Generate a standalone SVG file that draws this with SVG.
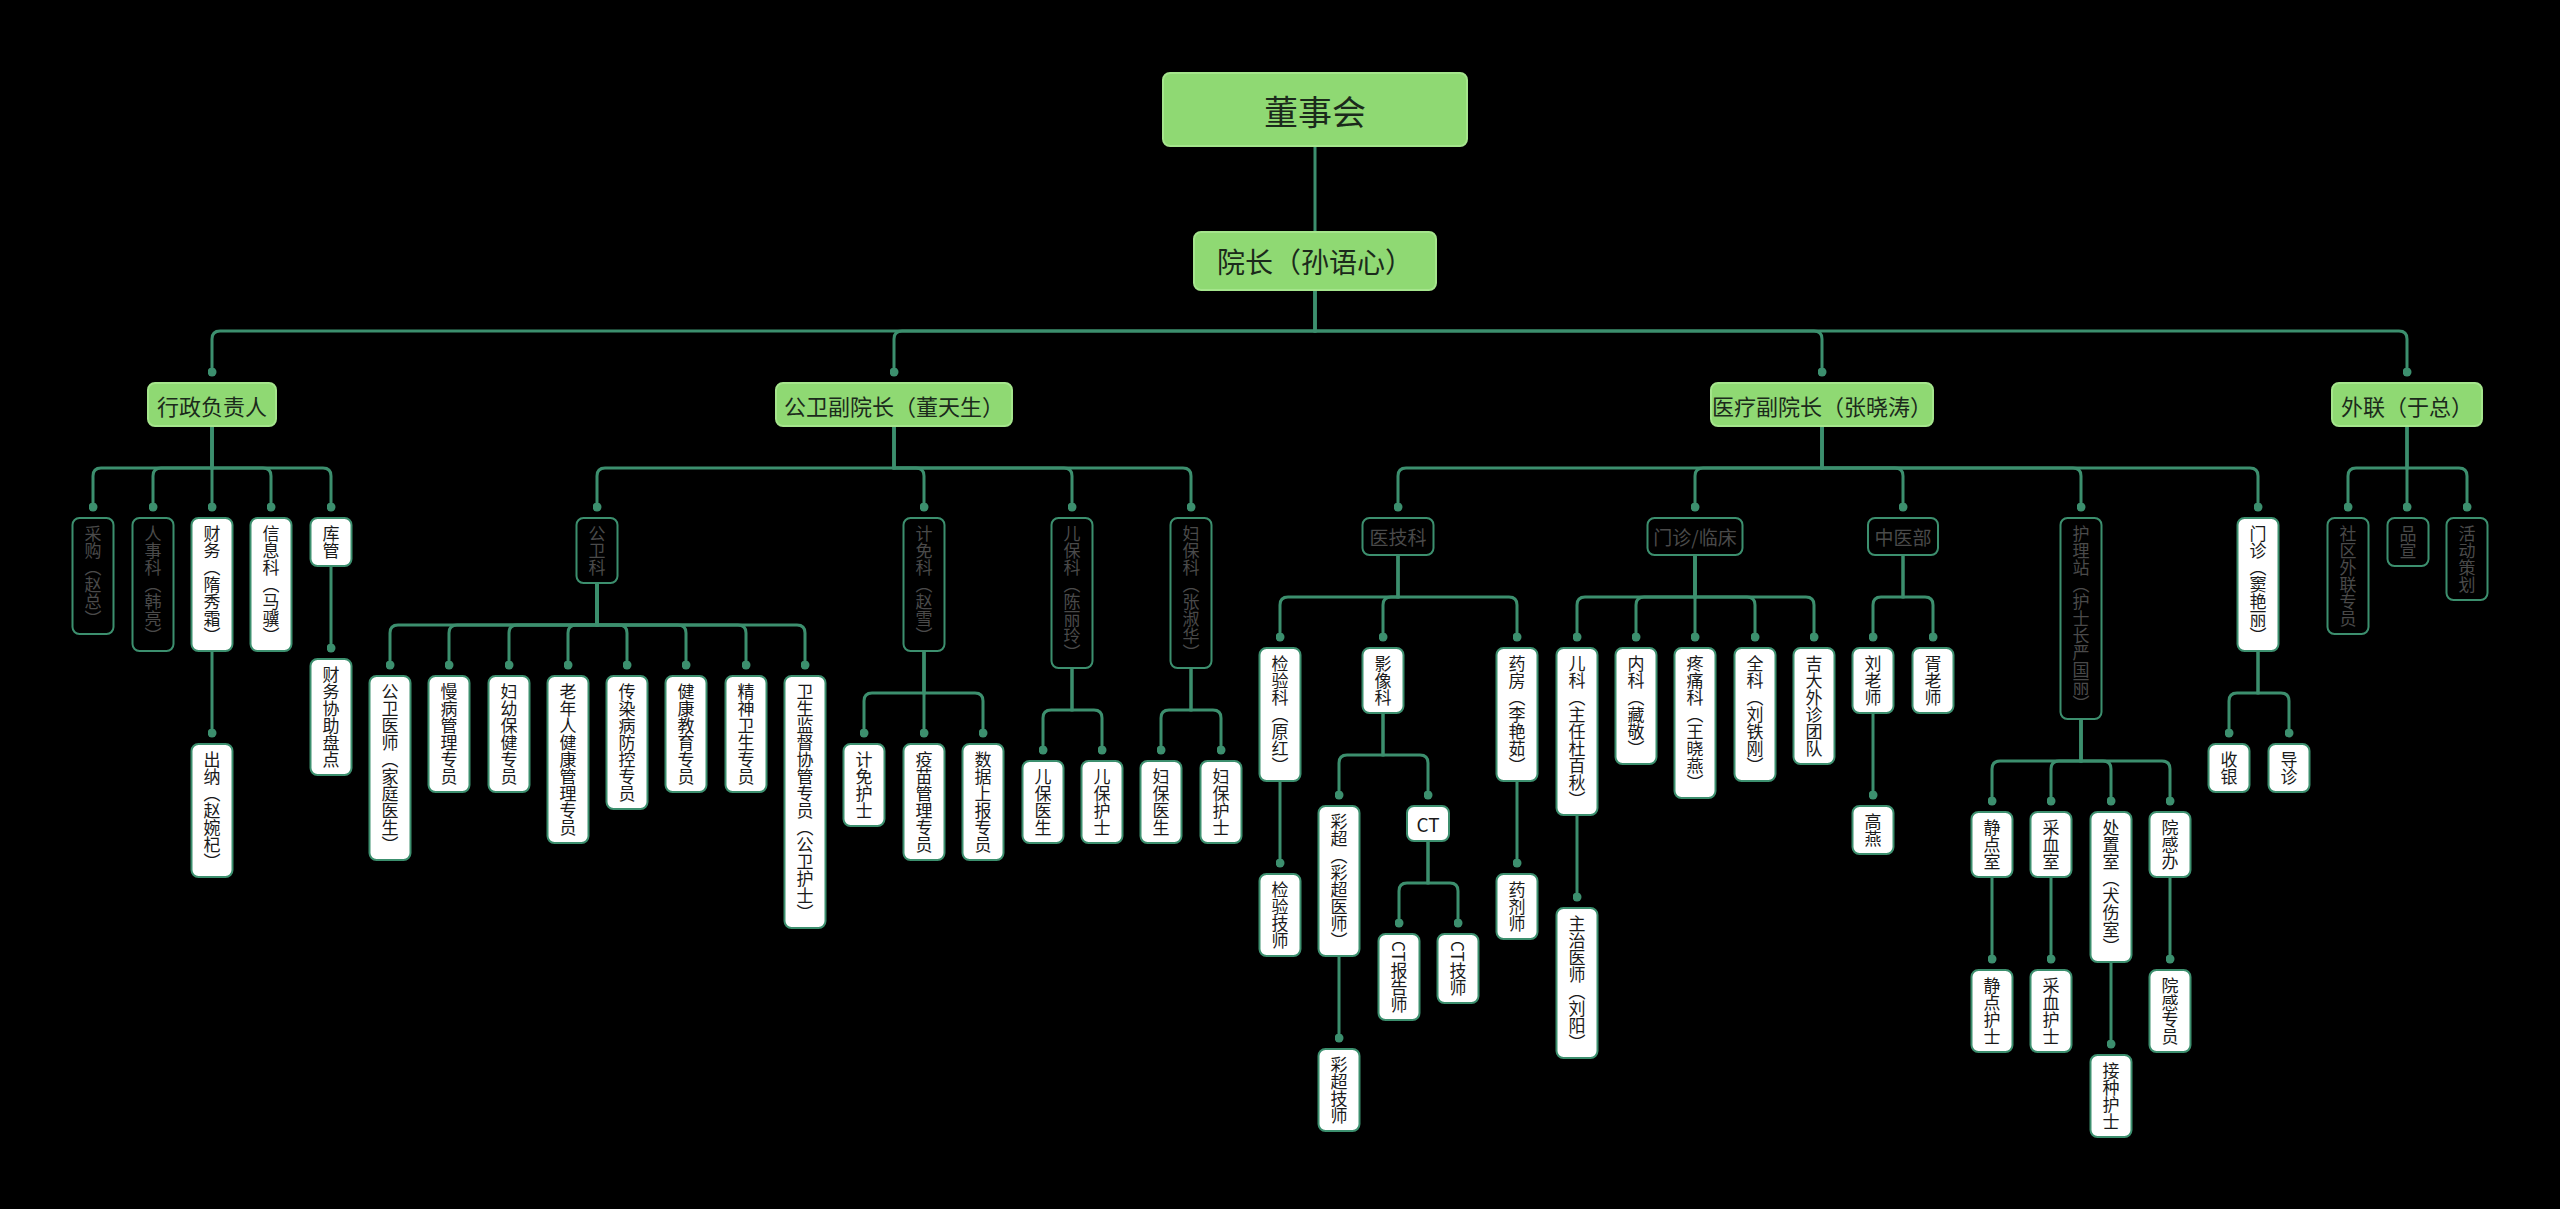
<svg xmlns="http://www.w3.org/2000/svg" width="2560" height="1209" viewBox="0 0 2560 1209">
<defs>
<marker id="dot" viewBox="0 0 10 10" refX="5" refY="5" markerWidth="9" markerHeight="9" markerUnits="userSpaceOnUse"><circle cx="5" cy="5" r="5" fill="#3c8f6e"/></marker>
<style>
text{font-family:"Noto Sans CJK SC","Noto Sans",sans-serif;}
.c path{fill:none;stroke:#3c8f6e;stroke-width:3;marker-end:url(#dot);}
.c path.nm{marker-end:none;}
.l1 rect{fill:#8fd973;stroke:#a5e58c;stroke-width:2;}
.l1 text{fill:#1b2a1b;text-anchor:middle;dominant-baseline:central;font-size:22px;}
.w rect{fill:#ffffff;stroke:#3c8f6e;stroke-width:2;}
.d rect{fill:#000000;stroke:#3c8f6e;stroke-width:2;}
.w text{fill:#1a1a1a;}
.d text{fill:#4a4a4a;}
.v text{writing-mode:vertical-rl;font-size:17px;}
.h text{font-size:19px;text-anchor:middle;dominant-baseline:central;}
</style>
</defs>
<rect width="2560" height="1209" fill="#000"/>
<g class="c" id="connectors">
<path class="nm" d="M1315 146V232"/>
<path d="M1315 290V331H220Q212 331 212 339V372"/>
<path d="M1315 290V331H902Q894 331 894 339V372"/>
<path d="M1315 290V331H1814Q1822 331 1822 339V372"/>
<path d="M1315 290V331H2399Q2407 331 2407 339V372"/>
<path d="M212 426V468H101Q93 468 93 476V507"/>
<path d="M212 426V468H161Q153 468 153 476V507"/>
<path d="M212 426V507"/>
<path d="M212 426V468H263Q271 468 271 476V507"/>
<path d="M212 426V468H323Q331 468 331 476V507"/>
<path d="M212 651V733"/>
<path d="M331 566V648"/>
<path d="M894 426V468H605Q597 468 597 476V507"/>
<path d="M894 426V468H916Q924 468 924 476V507"/>
<path d="M894 426V468H1064Q1072 468 1072 476V507"/>
<path d="M894 426V468H1183Q1191 468 1191 476V507"/>
<path d="M597 583V625H398Q390 625 390 633V665"/>
<path d="M597 583V625H457Q449 625 449 633V665"/>
<path d="M597 583V625H517Q509 625 509 633V665"/>
<path d="M597 583V625H576Q568 625 568 633V665"/>
<path d="M597 583V625H619Q627 625 627 633V665"/>
<path d="M597 583V625H678Q686 625 686 633V665"/>
<path d="M597 583V625H738Q746 625 746 633V665"/>
<path d="M597 583V625H797Q805 625 805 633V665"/>
<path d="M924 651V693H872Q864 693 864 701V733"/>
<path d="M924 651V733"/>
<path d="M924 651V693H975Q983 693 983 701V733"/>
<path d="M1072 668V710H1051Q1043 710 1043 718V750"/>
<path d="M1072 668V710H1094Q1102 710 1102 718V750"/>
<path d="M1191 668V710H1169Q1161 710 1161 718V750"/>
<path d="M1191 668V710H1213Q1221 710 1221 718V750"/>
<path d="M1822 426V468H1406Q1398 468 1398 476V507"/>
<path d="M1822 426V468H1703Q1695 468 1695 476V507"/>
<path d="M1822 426V468H1895Q1903 468 1903 476V507"/>
<path d="M1822 426V468H2073Q2081 468 2081 476V507"/>
<path d="M1822 426V468H2250Q2258 468 2258 476V507"/>
<path d="M1398 555V597H1288Q1280 597 1280 605V637"/>
<path d="M1398 555V597H1391Q1383 597 1383 605V637"/>
<path d="M1398 555V597H1509Q1517 597 1517 605V637"/>
<path d="M1280 781V863"/>
<path d="M1517 781V863"/>
<path d="M1383 713V755H1347Q1339 755 1339 763V795"/>
<path d="M1383 713V755H1420Q1428 755 1428 763V795"/>
<path d="M1339 956V1038"/>
<path d="M1428 841V883H1407Q1399 883 1399 891V923"/>
<path d="M1428 841V883H1450Q1458 883 1458 891V923"/>
<path d="M1695 555V597H1585Q1577 597 1577 605V637"/>
<path d="M1695 555V597H1644Q1636 597 1636 605V637"/>
<path d="M1695 555V637"/>
<path d="M1695 555V597H1747Q1755 597 1755 605V637"/>
<path d="M1695 555V597H1806Q1814 597 1814 605V637"/>
<path d="M1577 815V897"/>
<path d="M1903 555V597H1881Q1873 597 1873 605V637"/>
<path d="M1903 555V597H1925Q1933 597 1933 605V637"/>
<path d="M1873 713V795"/>
<path d="M2081 719V761H2000Q1992 761 1992 769V801"/>
<path d="M2081 719V761H2059Q2051 761 2051 769V801"/>
<path d="M2081 719V761H2103Q2111 761 2111 769V801"/>
<path d="M2081 719V761H2162Q2170 761 2170 769V801"/>
<path d="M1992 877V959"/>
<path d="M2051 877V959"/>
<path d="M2111 962V1044"/>
<path d="M2170 877V959"/>
<path d="M2258 651V693H2237Q2229 693 2229 701V733"/>
<path d="M2258 651V693H2281Q2289 693 2289 701V733"/>
<path d="M2407 426V468H2356Q2348 468 2348 476V507"/>
<path d="M2407 426V507"/>
<path d="M2407 426V468H2459Q2467 468 2467 476V507"/>
</g>

<g id="n-dongshihui" class="l1"><rect x="1163" y="73" width="304" height="73" rx="7"/><text x="1315" y="110" style="font-size:34px">董事会</text></g>
<g id="n-yuanzhang" class="l1"><rect x="1194" y="232" width="242" height="58" rx="7"/><text x="1315" y="261" style="font-size:28px">院长（孙语心）</text></g>
<g id="n-xingzheng" class="l1"><rect x="148" y="383" width="128" height="43" rx="7"/><text x="212" y="404.5">行政负责人</text></g>
<g id="n-gongwei" class="l1"><rect x="776" y="383" width="236" height="43" rx="7"/><text x="894" y="404.5">公卫副院长（董天生）</text></g>
<g id="n-yiliao" class="l1"><rect x="1711" y="383" width="222" height="43" rx="7"/><text x="1822" y="404.5">医疗副院长（张晓涛）</text></g>
<g id="n-wailian" class="l1"><rect x="2332" y="383" width="150" height="43" rx="7"/><text x="2407" y="404.5">外联（于总）</text></g>

<g id="n-caigou" class="d v"><rect x="72.5" y="518" width="41" height="116" rx="7"/><text x="93" y="525">采购（赵总）</text></g>
<g id="n-renshi" class="d v"><rect x="132.5" y="518" width="41" height="133" rx="7"/><text x="153" y="525">人事科（韩亮）</text></g>
<g id="n-caiwu" class="w v"><rect x="191.5" y="518" width="41" height="133" rx="7"/><text x="212" y="525">财务（隋秀霜）</text></g>
<g id="n-xinxi" class="w v"><rect x="250.5" y="518" width="41" height="133" rx="7"/><text x="271" y="525">信息科（马骥）</text></g>
<g id="n-kuguan" class="w v"><rect x="310.5" y="518" width="41" height="48" rx="7"/><text x="331" y="525">库管</text></g>
<g id="n-chuna" class="w v"><rect x="191.5" y="744" width="41" height="133" rx="7"/><text x="212" y="751">出纳（赵婉杞）</text></g>
<g id="n-pandian" class="w v"><rect x="310.5" y="659" width="41" height="116" rx="7"/><text x="331" y="666">财务协助盘点</text></g>

<g id="n-gongweike" class="d v"><rect x="576.5" y="518" width="41" height="65" rx="7"/><text x="597" y="525">公卫科</text></g>
<g id="n-jimian" class="d v"><rect x="903.5" y="518" width="41" height="133" rx="7"/><text x="924" y="525">计免科（赵雪）</text></g>
<g id="n-erbao" class="d v"><rect x="1051.5" y="518" width="41" height="150" rx="7"/><text x="1072" y="525">儿保科（陈丽玲）</text></g>
<g id="n-fubao" class="d v"><rect x="1170.5" y="518" width="41" height="150" rx="7"/><text x="1191" y="525">妇保科（张淑华）</text></g>
<g id="n-gwys" class="w v"><rect x="369.5" y="676" width="41" height="184" rx="7"/><text x="390" y="683">公卫医师（家庭医生）</text></g>
<g id="n-mb" class="w v"><rect x="428.5" y="676" width="41" height="116" rx="7"/><text x="449" y="683">慢病管理专员</text></g>
<g id="n-fy" class="w v"><rect x="488.5" y="676" width="41" height="116" rx="7"/><text x="509" y="683">妇幼保健专员</text></g>
<g id="n-lnr" class="w v"><rect x="547.5" y="676" width="41" height="167" rx="7"/><text x="568" y="683">老年人健康管理专员</text></g>
<g id="n-crb" class="w v"><rect x="606.5" y="676" width="41" height="133" rx="7"/><text x="627" y="683">传染病防控专员</text></g>
<g id="n-jkjy" class="w v"><rect x="665.5" y="676" width="41" height="116" rx="7"/><text x="686" y="683">健康教育专员</text></g>
<g id="n-jsws" class="w v"><rect x="725.5" y="676" width="41" height="116" rx="7"/><text x="746" y="683">精神卫生专员</text></g>
<g id="n-wsjd" class="w v"><rect x="784.5" y="676" width="41" height="252" rx="7"/><text x="805" y="683">卫生监督协管专员（公卫护士）</text></g>
<g id="n-jmhs" class="w v"><rect x="843.5" y="744" width="41" height="82" rx="7"/><text x="864" y="751">计免护士</text></g>
<g id="n-ymgl" class="w v"><rect x="903.5" y="744" width="41" height="116" rx="7"/><text x="924" y="751">疫苗管理专员</text></g>
<g id="n-sjsb" class="w v"><rect x="962.5" y="744" width="41" height="116" rx="7"/><text x="983" y="751">数据上报专员</text></g>
<g id="n-ebys" class="w v"><rect x="1022.5" y="761" width="41" height="82" rx="7"/><text x="1043" y="768">儿保医生</text></g>
<g id="n-ebhs" class="w v"><rect x="1081.5" y="761" width="41" height="82" rx="7"/><text x="1102" y="768">儿保护士</text></g>
<g id="n-fbys" class="w v"><rect x="1140.5" y="761" width="41" height="82" rx="7"/><text x="1161" y="768">妇保医生</text></g>
<g id="n-fbhs" class="w v"><rect x="1200.5" y="761" width="41" height="82" rx="7"/><text x="1221" y="768">妇保护士</text></g>

<g id="n-yijike" class="d h"><rect x="1362.5" y="518" width="71" height="37" rx="7"/><text x="1398" y="536.5">医技科</text></g>
<g id="n-menzhen-lc" class="d h"><rect x="1647.5" y="518" width="95" height="37" rx="7"/><text x="1695" y="536.5">门诊/临床</text></g>
<g id="n-zhongyi" class="d h"><rect x="1868" y="518" width="70" height="37" rx="7"/><text x="1903" y="536.5">中医部</text></g>
<g id="n-hulizhan" class="d v"><rect x="2060.5" y="518" width="41" height="201" rx="7"/><text x="2081" y="525">护理站（护士长严国丽）</text></g>
<g id="n-menzhen" class="w v"><rect x="2237.5" y="518" width="41" height="133" rx="7"/><text x="2258" y="525">门诊（窦艳丽）</text></g>
<g id="n-jianyan" class="w v"><rect x="1259.5" y="648" width="41" height="133" rx="7"/><text x="1280" y="655">检验科（原红）</text></g>
<g id="n-yingxiang" class="w v"><rect x="1362.5" y="648" width="41" height="65" rx="7"/><text x="1383" y="655">影像科</text></g>
<g id="n-yaofang" class="w v"><rect x="1496.5" y="648" width="41" height="133" rx="7"/><text x="1517" y="655">药房（李艳茹）</text></g>
<g id="n-jyjs" class="w v"><rect x="1259.5" y="874" width="41" height="82" rx="7"/><text x="1280" y="881">检验技师</text></g>
<g id="n-yjs" class="w v"><rect x="1496.5" y="874" width="41" height="65" rx="7"/><text x="1517" y="881">药剂师</text></g>
<g id="n-caichao" class="w v"><rect x="1318.5" y="806" width="41" height="150" rx="7"/><text x="1339" y="813">彩超（彩超医师）</text></g>
<g id="n-ct" class="w h"><rect x="1407" y="806" width="42" height="35" rx="7"/><text x="1428" y="823.5">CT</text></g>
<g id="n-ctbg" class="w v"><rect x="1378.5" y="934" width="41" height="86" rx="7"/><text x="1399" y="941">CT报告师</text></g>
<g id="n-ctjs" class="w v"><rect x="1437.5" y="934" width="41" height="69" rx="7"/><text x="1458" y="941">CT技师</text></g>
<g id="n-ccjs" class="w v"><rect x="1318.5" y="1049" width="41" height="82" rx="7"/><text x="1339" y="1056">彩超技师</text></g>
<g id="n-erke" class="w v"><rect x="1556.5" y="648" width="41" height="167" rx="7"/><text x="1577" y="655">儿科（主任杜百秋）</text></g>
<g id="n-neike" class="w v"><rect x="1615.5" y="648" width="41" height="116" rx="7"/><text x="1636" y="655">内科（藏敬）</text></g>
<g id="n-tengtong" class="w v"><rect x="1674.5" y="648" width="41" height="150" rx="7"/><text x="1695" y="655">疼痛科（王晓燕）</text></g>
<g id="n-quanke" class="w v"><rect x="1734.5" y="648" width="41" height="133" rx="7"/><text x="1755" y="655">全科（刘铁刚）</text></g>
<g id="n-jida" class="w v"><rect x="1793.5" y="648" width="41" height="116" rx="7"/><text x="1814" y="655">吉大外诊团队</text></g>
<g id="n-zhuzhi" class="w v"><rect x="1556.5" y="908" width="41" height="150" rx="7"/><text x="1577" y="915">主治医师（刘阳）</text></g>
<g id="n-liu" class="w v"><rect x="1852.5" y="648" width="41" height="65" rx="7"/><text x="1873" y="655">刘老师</text></g>
<g id="n-xu" class="w v"><rect x="1912.5" y="648" width="41" height="65" rx="7"/><text x="1933" y="655">胥老师</text></g>
<g id="n-gaoyan" class="w v"><rect x="1852.5" y="806" width="41" height="48" rx="7"/><text x="1873" y="813">高燕</text></g>
<g id="n-jds" class="w v"><rect x="1971.5" y="812" width="41" height="65" rx="7"/><text x="1992" y="819">静点室</text></g>
<g id="n-cxs" class="w v"><rect x="2030.5" y="812" width="41" height="65" rx="7"/><text x="2051" y="819">采血室</text></g>
<g id="n-czs" class="w v"><rect x="2090.5" y="812" width="41" height="150" rx="7"/><text x="2111" y="819">处置室（犬伤室）</text></g>
<g id="n-ygb" class="w v"><rect x="2149.5" y="812" width="41" height="65" rx="7"/><text x="2170" y="819">院感办</text></g>
<g id="n-jdhs" class="w v"><rect x="1971.5" y="970" width="41" height="82" rx="7"/><text x="1992" y="977">静点护士</text></g>
<g id="n-cxhs" class="w v"><rect x="2030.5" y="970" width="41" height="82" rx="7"/><text x="2051" y="977">采血护士</text></g>
<g id="n-jzhs" class="w v"><rect x="2090.5" y="1055" width="41" height="82" rx="7"/><text x="2111" y="1062">接种护士</text></g>
<g id="n-ygzy" class="w v"><rect x="2149.5" y="970" width="41" height="82" rx="7"/><text x="2170" y="977">院感专员</text></g>
<g id="n-shouyin" class="w v"><rect x="2208.5" y="744" width="41" height="48" rx="7"/><text x="2229" y="751">收银</text></g>
<g id="n-daozhen" class="w v"><rect x="2268.5" y="744" width="41" height="48" rx="7"/><text x="2289" y="751">导诊</text></g>

<g id="n-sqwl" class="d v"><rect x="2327.5" y="518" width="41" height="116" rx="7"/><text x="2348" y="525">社区外联专员</text></g>
<g id="n-pinxuan" class="d v"><rect x="2387.5" y="518" width="41" height="48" rx="7"/><text x="2408" y="525">品宣</text></g>
<g id="n-huodong" class="d v"><rect x="2446.5" y="518" width="41" height="82" rx="7"/><text x="2467" y="525">活动策划</text></g>
</svg>
